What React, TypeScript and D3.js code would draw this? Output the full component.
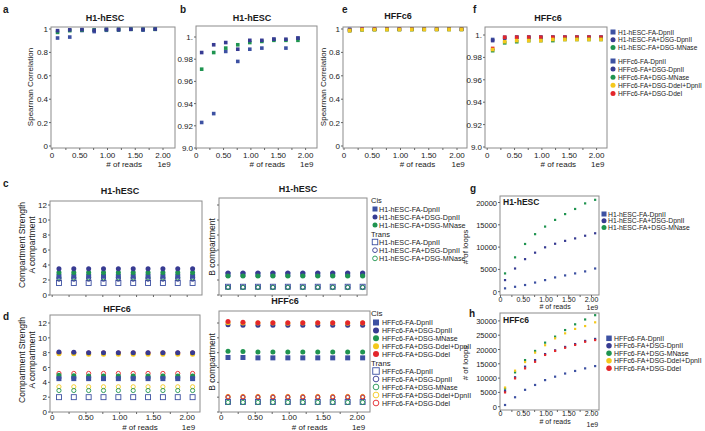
import React, { useEffect, useRef } from 'react';
import * as d3 from 'd3';

// read counts (x 1e9)
const readsH1 = [0.1, 0.32, 0.54, 0.76, 0.98, 1.2, 1.42, 1.64, 1.86];
const reads = [0.1, 0.32, 0.54, 0.76, 0.98, 1.2, 1.42, 1.64, 1.86, 2.08];

const h1Names = ['H1-hESC-FA-DpnII', 'H1-hESC-FA+DSG-DpnII', 'H1-hESC-FA+DSG-MNase'];
const hffNames = ['HFFc6-FA-DpnII', 'HFFc6-FA+DSG-DpnII', 'HFFc6-FA+DSG-MNase', 'HFFc6-FA+DSG-DdeI+DpnII', 'HFFc6-FA+DSG-DdeI'];
const colors = ['#3d51a2', '#373b92', '#1f9450', '#f4c81c', '#e3262b'];

// spearman correlation
const spH1 = [
  [0.923, 0.931, 0.987, 0.978, 0.989, 0.99, 0.998, 0.99, 0.999],
  [0.986, 0.993, 0.995, 0.989, 0.997, 0.997, 0.998, 0.998, 0.999],
  [0.971, 0.986, 0.99, 0.993, 0.995, 0.996, 0.997, 0.997, 0.997],
];
const spHFF = [
  [0.996, 0.998, 0.998, 0.998, 0.998, 0.998, 0.998, 0.998, 0.998, 0.998],
  [0.995, 0.997, 0.998, 0.998, 0.998, 0.998, 0.998, 0.998, 0.998, 0.998],
  [0.986, 0.993, 0.994, 0.995, 0.995, 0.995, 0.996, 0.996, 0.996, 0.996],
  [0.987, 0.994, 0.995, 0.995, 0.995, 0.996, 0.996, 0.996, 0.996, 0.996],
  [0.988, 0.998, 0.998, 0.998, 0.998, 0.998, 0.998, 0.998, 0.998, 0.998],
];

// compartment strength
const cisA_H1 = [
  [2.5, 2.5, 2.5, 2.5, 2.5, 2.5, 2.5, 2.5, 2.5, 2.5],
  [3.5, 3.5, 3.5, 3.5, 3.5, 3.5, 3.5, 3.5, 3.5, 3.5],
  [3.0, 3.0, 3.0, 3.0, 3.0, 3.0, 3.0, 3.0, 3.0, 3.0],
];
const transA_H1 = [
  [1.6, 1.6, 1.6, 1.6, 1.6, 1.6, 1.6, 1.6, 1.6, 1.6],
  [2.1, 2.1, 2.1, 2.1, 2.1, 2.1, 2.1, 2.1, 2.1, 2.1],
  [2.3, 2.3, 2.3, 2.3, 2.3, 2.3, 2.3, 2.3, 2.3, 2.3],
];
const cisB_H1 = [
  [2.75, 2.75, 2.75, 2.75, 2.75, 2.75, 2.75, 2.75, 2.75, 2.75],
  [2.95, 2.95, 2.95, 2.95, 2.95, 2.95, 2.95, 2.95, 2.95, 2.95],
  [2.55, 2.55, 2.55, 2.55, 2.55, 2.55, 2.55, 2.55, 2.55, 2.55],
];
const transB_H1 = [
  [1.1, 1.1, 1.1, 1.1, 1.1, 1.1, 1.1, 1.1, 1.1, 1.1],
  [1.05, 1.05, 1.05, 1.05, 1.05, 1.05, 1.05, 1.05, 1.05, 1.05],
  [1.0, 1.0, 1.0, 1.0, 1.0, 1.0, 1.0, 1.0, 1.0, 1.0],
];
const cisA_HFF = [
  [4.5, 4.5, 4.5, 4.5, 4.5, 4.5, 4.5, 4.5, 4.5, 4.5],
  [8.1, 8.05, 8.0, 8.0, 8.0, 8.0, 8.0, 8.0, 8.0, 8.0],
  [4.95, 4.9, 4.85, 4.85, 4.85, 4.85, 4.85, 4.85, 4.85, 4.85],
  [7.85, 7.85, 7.8, 7.8, 7.8, 7.8, 7.8, 7.8, 7.8, 7.8],
  [8.0, 8.0, 7.95, 7.95, 7.95, 7.95, 7.95, 7.95, 7.95, 7.95],
];
const transA_HFF = [
  [2.0, 2.0, 2.0, 2.0, 2.0, 2.0, 2.0, 2.0, 2.0, 2.0],
  [4.6, 4.6, 4.6, 4.6, 4.6, 4.6, 4.6, 4.6, 4.6, 4.6],
  [2.9, 2.9, 2.9, 2.9, 2.9, 2.9, 2.9, 2.9, 2.9, 2.9],
  [3.4, 3.4, 3.4, 3.4, 3.4, 3.4, 3.4, 3.4, 3.4, 3.4],
  [5.2, 5.2, 5.2, 5.2, 5.2, 5.2, 5.2, 5.2, 5.2, 5.2],
];
const cisB_HFF = [
  [7.35, 7.35, 7.3, 7.3, 7.3, 7.3, 7.3, 7.3, 7.3, 7.3],
  [11.75, 11.7, 11.7, 11.7, 11.7, 11.7, 11.7, 11.7, 11.7, 11.7],
  [8.2, 8.15, 8.1, 8.1, 8.1, 8.1, 8.1, 8.1, 8.1, 8.1],
  [12.05, 12.0, 12.0, 12.0, 11.95, 12.0, 12.0, 12.0, 11.95, 12.0],
  [12.2, 12.1, 12.05, 12.05, 12.05, 12.05, 12.05, 12.05, 12.05, 12.05],
];
const transB_HFF = [
  [1.35, 1.35, 1.35, 1.35, 1.35, 1.35, 1.35, 1.35, 1.35, 1.35],
  [1.95, 1.95, 1.95, 1.95, 1.95, 1.95, 1.95, 1.95, 1.95, 1.95],
  [1.3, 1.3, 1.3, 1.3, 1.3, 1.3, 1.3, 1.3, 1.3, 1.3],
  [2.1, 2.1, 2.1, 2.1, 2.1, 2.1, 2.1, 2.1, 2.1, 2.1],
  [2.05, 2.05, 2.05, 2.05, 2.05, 2.05, 2.05, 2.05, 2.05, 2.05],
];

// number of loops
const loopsH1 = [
  [750, 1100, 1500, 2050, 2600, 3200, 3650, 4100, 4550, 5200],
  [2600, 5200, 7300, 8750, 9950, 10750, 11400, 11950, 12550, 13100],
  [4100, 7700, 10700, 12900, 14600, 16100, 17400, 18550, 19800, 20600],
];
const loopsHFF = [
  [600, 3300, 5900, 7600, 9300, 10500, 11600, 12500, 13400, 14200],
  [5500, 10300, 14000, 16300, 18400, 19700, 20900, 21900, 23000, 23700],
  [6300, 12000, 16300, 19500, 22400, 24500, 26800, 28800, 30500, 32000],
  [6700, 12600, 15600, 18900, 21500, 23900, 25650, 27200, 28200, 29500],
  [5000, 9900, 13400, 15700, 18100, 19500, 20600, 21600, 22700, 23300],
];

const xTicks = [0, 0.5, 1, 1.5, 2];
const xTickLabels = ['0', '0.50', '1.00', '1.50', '2.00'];
const xMinor = [0.25, 0.75, 1.25, 1.75];
const spTicks = [0, 0.2, 0.4, 0.6, 0.8, 1];
const spTickLabels = ['0', '0.2', '0.4', '0.6', '0.8', '1'];
const spZoomTicks = [0.9, 0.92, 0.94, 0.96, 0.98, 1];
const spZoomTickLabels = ['9.0', '0.92', '0.94', '0.96', '0.98', '1.'];
const csTicks = [0, 2, 4, 6, 8, 10, 12];
const loopTicksH1 = [0, 5000, 10000, 15000, 20000];
const loopTicksHFF = [0, 5000, 10000, 15000, 20000, 25000, 30000];

const FONT = '"Liberation Sans", Arial, Helvetica, sans-serif';

export default function App() {
  const ref = useRef<SVGSVGElement>(null);

  useEffect(() => {
    const svg = d3.select(ref.current);
    svg.selectAll('*').remove();

    const text = (x: number, y: number, s: string, size = 8, anchor = 'start', weight = 'normal', rot = false) => {
      const t = svg.append('text').attr('x', x).attr('y', y).text(s)
        .attr('font-family', FONT).attr('font-size', size).attr('text-anchor', anchor)
        .attr('font-weight', weight).attr('fill', '#1a1a1a');
      if (rot) t.attr('transform', `rotate(-90, ${x}, ${y})`);
      return t;
    };

    const marker = (g: any, x: number, y: number, shape: string, color: string, filled: boolean, s: number) => {
      if (shape === 'square') {
        g.append('rect').attr('x', x - s / 2).attr('y', y - s / 2).attr('width', s).attr('height', s)
          .attr('fill', filled ? color : '#fff').attr('stroke', filled ? 'none' : color).attr('stroke-width', 0.9);
      } else {
        g.append('circle').attr('cx', x).attr('cy', y).attr('r', filled ? s / 2 : s / 2 - 0.4)
          .attr('fill', filled ? color : '#fff').attr('stroke', filled ? 'none' : color).attr('stroke-width', 0.9);
      }
    };

    const series = (g: any, xs: number[], ys: number[], x: any, y: any, shape: string, color: string, filled: boolean, s: number) => {
      const pts = d3.zip(xs, ys);
      if (shape === 'square') {
        g.append('g').selectAll('rect').data(pts).join('rect')
          .attr('x', (d: number[]) => x(d[0]) - s / 2).attr('y', (d: number[]) => y(d[1]) - s / 2)
          .attr('width', s).attr('height', s)
          .attr('fill', filled ? color : 'none').attr('stroke', filled ? 'none' : color).attr('stroke-width', 0.9);
      } else {
        g.append('g').selectAll('circle').data(pts).join('circle')
          .attr('cx', (d: number[]) => x(d[0])).attr('cy', (d: number[]) => y(d[1]))
          .attr('r', filled ? s / 2 : s / 2 - 0.4)
          .attr('fill', filled ? color : 'none').attr('stroke', filled ? 'none' : color).attr('stroke-width', 0.9);
      }
    };

    // frame + axes
    const panel = (p: any) => {
      const g = svg.append('g');
      g.append('rect').attr('x', p.l).attr('y', p.t).attr('width', p.r - p.l).attr('height', p.b - p.t)
        .attr('fill', 'none').attr('stroke', '#8c8c8c').attr('stroke-width', 1);
      p.yTicks.forEach((v: number, i: number) => {
        const yy = p.y(v);
        g.append('line').attr('x1', p.l - 2).attr('x2', p.l).attr('y1', yy).attr('y2', yy).attr('stroke', '#666');
        if (p.yLabels) text(p.l - 3, yy + 3, p.yLabels[i], p.yFont || 8, 'end');
      });
      xTicks.concat(xMinor).forEach((v) => {
        const xx = p.x(v);
        g.append('line').attr('x1', xx).attr('x2', xx).attr('y1', p.b).attr('y2', p.b + 2).attr('stroke', '#666');
      });
      if (p.xLabels) {
        xTicks.forEach((v, i) => text(p.x(v), p.b + p.lx, xTickLabels[i], p.xFont || 8, 'middle'));
        text(p.x(p.nx || 1.3), p.b + p.ln, '# of reads', p.xFont || 8, 'middle');
        text(p.x(2.02), p.b + p.ln + (p.e9 || 0), '1e9', p.xFont || 8, 'middle');
      }
      return g;
    };

    const shapeOf = (i: number) => (i === 0 ? 'square' : 'circle');

    // ---- a, b, e, f : Spearman correlation ----
    const top = { t: 27, b: 148, lx: 10, ln: 19 };
    const pa = { ...top, l: 51, r: 175, x: d3.scaleLinear([0, 2], [52, 163]), y: d3.scaleLinear([0, 1], [146, 29]), yTicks: spTicks, yLabels: spTickLabels, xLabels: true };
    const pb = { ...top, t: 26, l: 196, r: 317, x: d3.scaleLinear([0, 2], [196.2, 305.6]), y: d3.scaleLinear([0.9, 1], [148, 37]), yTicks: spZoomTicks, yLabels: spZoomTickLabels, xLabels: true };
    const pe = { ...top, l: 343, r: 467, x: d3.scaleLinear([0, 2], [344, 457]), y: d3.scaleLinear([0, 1], [146, 29]), yTicks: spTicks, yLabels: spTickLabels, xLabels: true };
    const pf = { ...top, l: 485, r: 607, x: d3.scaleLinear([0, 2], [487.2, 596.6]), y: d3.scaleLinear([0.9, 1], [147, 35]), yTicks: spZoomTicks, yLabels: spZoomTickLabels, xLabels: true };

    [pa, pb].forEach((p) => {
      const g = panel(p);
      [0, 2, 1].forEach((i) => series(g, readsH1, spH1[i], p.x, p.y, 'square', colors[i], true, 3.6));
    });
    [pe, pf].forEach((p) => {
      const g = panel(p);
      [0, 1, 4, 2, 3].forEach((i) => series(g, reads, spHFF[i], p.x, p.y, 'square', colors[i], true, 3.6));
    });

    text(105, 21, 'H1-hESC', 9, 'middle', 'bold');
    text(252, 21, 'H1-hESC', 9, 'middle', 'bold');
    text(398, 19, 'HFFc6', 9, 'middle', 'bold');
    text(548, 21, 'HFFc6', 9, 'middle', 'bold');
    text(33, 87, 'Spearman Correlation', 8, 'middle', 'normal', true);
    text(326, 87, 'Spearman Correlation', 8, 'middle', 'normal', true);

    // top-right legend
    const lg = svg.append('g');
    h1Names.forEach((n, i) => {
      const yy = 32 + i * 7.8;
      marker(lg, 613, yy, shapeOf(i), colors[i], true, 5);
      text(618, yy + 2.5, n, 6.6);
    });
    hffNames.forEach((n, i) => {
      const yy = 61 + i * 8.1;
      marker(lg, 613, yy, shapeOf(i), colors[i], true, 5);
      text(618, yy + 2.5, n, 6.6);
    });

    // ---- c, d : compartment strength ----
    const xc1 = d3.scaleLinear([0, 2], [52.2, 187.2]);
    const xc2 = d3.scaleLinear([0, 2], [221.2, 357.2]);
    const yc = d3.scaleLinear([0, 12], [295, 205]);
    const yd = d3.scaleLinear([0, 12], [412, 323]);
    const pc1 = { l: 50, r: 202, t: 201, b: 295, x: xc1, y: yc, yTicks: csTicks, yLabels: csTicks.map(String) };
    const pc2 = { l: 219, r: 367, t: 198, b: 295, x: xc2, y: yc, yTicks: csTicks };
    const pd1 = { l: 50, r: 200, t: 315, b: 412, lx: 8, ln: 18, x: xc1, y: yd, yTicks: csTicks, yLabels: csTicks.map(String), xLabels: true };
    const pd2 = { l: 219, r: 370, t: 311, b: 412, lx: 8, ln: 18, x: xc2, y: yd, yTicks: csTicks, xLabels: true };

    const compPanel = (p: any, cis: number[][], trans: number[][], order: number[]) => {
      const g = panel(p);
      order.forEach((i) => series(g, reads, trans[i], p.x, p.y, shapeOf(i), colors[i], false, 5));
      order.forEach((i) => series(g, reads, cis[i], p.x, p.y, shapeOf(i), colors[i], true, 5));
    };
    compPanel(pc1, cisA_H1, transA_H1, [0, 2, 1]);
    compPanel(pc2, cisB_H1, transB_H1, [0, 1, 2]);
    compPanel(pd1, cisA_HFF, transA_HFF, [4, 3, 2, 0, 1]);
    compPanel(pd2, cisB_HFF, transB_HFF, [1, 0, 2, 3, 4]);

    text(120, 194, 'H1-hESC', 9, 'middle', 'bold');
    text(298, 192, 'H1-hESC', 9, 'middle', 'bold');
    text(117, 312, 'HFFc6', 9, 'middle', 'bold');
    text(285, 304, 'HFFc6', 9, 'middle', 'bold');
    text(25, 245, 'Compartment Strength', 8.5, 'middle', 'normal', true);
    text(35, 245, 'A compartment', 8.5, 'middle', 'normal', true);
    text(25, 360, 'Compartment Strength', 8.5, 'middle', 'normal', true);
    text(35, 360, 'A compartment', 8.5, 'middle', 'normal', true);
    text(215, 247, 'B compartment', 8.5, 'middle', 'normal', true);
    text(215, 362, 'B compartment', 8.5, 'middle', 'normal', true);

    // c legend
    const lc = svg.append('g');
    text(371, 203, 'Cis', 7.5);
    h1Names.forEach((n, i) => {
      const yy = 209 + i * 8;
      marker(lc, 375, yy, shapeOf(i), colors[i], true, 5);
      text(379, yy + 2.6, n, 7.2);
    });
    text(371, 237, 'Trans', 7.5);
    h1Names.forEach((n, i) => {
      const yy = 242 + i * 8.2;
      marker(lc, 375, yy, shapeOf(i), colors[i], false, 5.5);
      text(379, yy + 2.6, n, 7.2);
    });

    // d legend
    const ld = svg.append('g');
    text(371, 316, 'Cis', 8);
    hffNames.forEach((n, i) => {
      const yy = 322.5 + i * 7.9;
      marker(ld, 376, yy, shapeOf(i), colors[i], true, 6);
      text(382, yy + 2.5, n, 7);
    });
    text(371, 365.5, 'Trans', 7.8);
    hffNames.forEach((n, i) => {
      const yy = 371 + i * 8;
      marker(ld, 376, yy, shapeOf(i), colors[i], false, 6.5);
      text(382, yy + 2.5, n, 7);
    });

    // ---- g, h : number of loops ----
    const xl = d3.scaleLinear([0, 2], [500.5, 591.5]);
    const pg = { l: 500, r: 599, t: 196, b: 295, lx: 6.5, ln: 14, e9: 0.5, nx: 1.2, xFont: 7, yFont: 7.5, x: xl, y: d3.scaleLinear([0, 20000], [291.7, 202.5]), yTicks: loopTicksH1, yLabels: loopTicksH1.map(String), xLabels: true };
    const ph = { l: 500, r: 599, t: 313, b: 410, lx: 6, ln: 13.5, e9: 3, nx: 1.2, xFont: 7, yFont: 7.5, x: xl, y: d3.scaleLinear([0, 30000], [406.7, 320.9]), yTicks: loopTicksHFF, yLabels: loopTicksHFF.map(String), xLabels: true };

    const gg = panel(pg);
    [0, 1, 2].forEach((i) => series(gg, reads, loopsH1[i], pg.x, pg.y, 'square', colors[i], true, 2.2));
    const gh = panel(ph);
    [0, 2, 3, 1, 4].forEach((i) => series(gh, reads, loopsHFF[i], ph.x, ph.y, 'square', colors[i], true, 2.2));

    text(503, 205, 'H1-hESC', 8.5, 'start', 'bold');
    text(503, 323, 'HFFc6', 8.5, 'start', 'bold');
    text(468, 247, '# of loops', 8, 'middle', 'normal', true);
    text(468, 363, '# of loops', 8, 'middle', 'normal', true);

    const lgg = svg.append('g');
    h1Names.forEach((n, i) => {
      const yy = 214 + i * 6.8;
      marker(lgg, 604, yy, shapeOf(i), colors[i], true, 5);
      text(608, yy + 2.5, n, 6.8);
    });
    const lgh = svg.append('g');
    hffNames.forEach((n, i) => {
      const yy = 338.3 + i * 7.5;
      marker(lgh, 609, yy, shapeOf(i), colors[i], true, 5.5);
      text(614, yy + 2.5, n, 6.9);
    });

    // panel letters
    text(3, 13, 'a', 10, 'start', 'bold');
    text(180, 13, 'b', 10, 'start', 'bold');
    text(342, 13, 'e', 10, 'start', 'bold');
    text(473, 13, 'f', 10, 'start', 'bold');
    text(3, 187, 'c', 10, 'start', 'bold');
    text(3, 320, 'd', 10, 'start', 'bold');
    text(470, 192, 'g', 10, 'start', 'bold');
    text(469, 317, 'h', 10, 'start', 'bold');
  }, []);

  return (
    <svg ref={ref} width={705} height={431} style={{ position: 'absolute', left: 0, top: 0, background: '#fff' }} />
  );
}
